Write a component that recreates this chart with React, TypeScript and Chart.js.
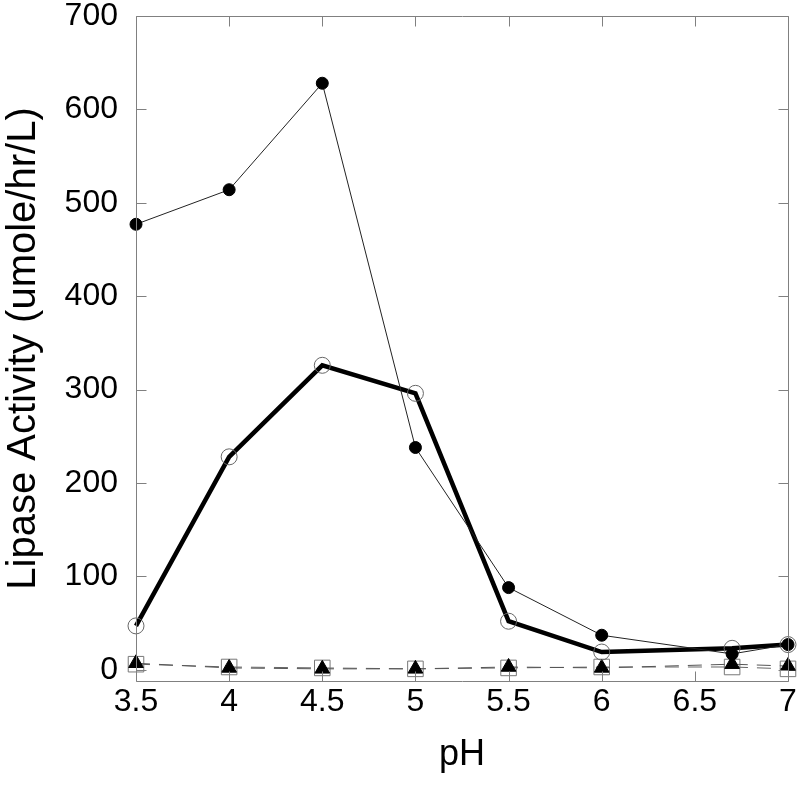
import React, { useEffect, useRef } from "react";
import { Chart, registerables } from "chart.js";

Chart.register(...registerables);

const phValues = [3.5, 4, 4.5, 5, 5.5, 6, 6.7, 7];
const filledCircle = [477, 514, 628, 238, 88, 37, 17, 27];
const openCircle = [47, 228, 326, 296, 52, 19, 23, 27];
const triangles = [7, 2, 1, 1, 3, 2, 6, 4];
const squares = [6, 3, 2, 1, 2, 3, 3, 1];
const yTicks = [0, 100, 200, 300, 400, 500, 600, 700];
const xTicks = [3.5, 4, 4.5, 5, 5.5, 6, 6.5, 7];

const pts = (ys: number[]) => phValues.map((x, i) => ({ x, y: ys[i] }));

const FONT = "'Liberation Sans', Arial, sans-serif";

const framePlugin = {
  id: "frame",
  afterDraw(chart: any) {
    const { ctx, chartArea: a, scales } = chart;
    const L = Math.round(a.left) + 0.5;
    const R = Math.round(a.right) + 0.5;
    const T = Math.round(a.top) + 0.5;
    const B = Math.round(a.bottom) + 0.5;
    ctx.save();
    ctx.strokeStyle = "#808080";
    ctx.lineWidth = 1;
    ctx.beginPath();
    ctx.rect(L, T, R - L, B - T);
    const len = 10;
    scales.x.ticks.forEach((t: any) => {
      const px = Math.round(scales.x.getPixelForValue(t.value)) + 0.5;
      ctx.moveTo(px, B);
      ctx.lineTo(px, B - len);
      ctx.moveTo(px, T);
      ctx.lineTo(px, T + len);
    });
    scales.y.ticks.forEach((t: any) => {
      const py = Math.round(scales.y.getPixelForValue(t.value)) + 0.5;
      ctx.moveTo(L, py);
      ctx.lineTo(L + len, py);
      ctx.moveTo(R, py);
      ctx.lineTo(R - len, py);
    });
    ctx.stroke();
    ctx.restore();
  },
};

export default function App() {
  const ref = useRef<HTMLCanvasElement>(null);
  useEffect(() => {
    document.body.style.margin = "0";
    const chart = new Chart(ref.current!, {
      type: "line",
      data: {
        datasets: [
          {
            data: pts(filledCircle),
            borderColor: "#222",
            borderWidth: 1,
            pointStyle: "circle",
            pointRadius: 6,
            pointBackgroundColor: "#000",
            pointBorderColor: "#000",
            pointBorderWidth: 1,
            clip: false,
          },
          {
            data: pts(openCircle),
            borderColor: "#000",
            borderWidth: 4.5,
            pointStyle: "circle",
            pointRadius: 8,
            pointBackgroundColor: "rgba(0,0,0,0)",
            pointBorderColor: "#666",
            pointBorderWidth: 1,
            clip: false,
          },
          {
            data: pts(triangles),
            borderColor: "#555",
            borderWidth: 1,
            borderDash: [14, 9],
            pointStyle: "triangle",
            pointRadius: 8.5,
            pointBackgroundColor: "#000",
            pointBorderColor: "#000",
            pointBorderWidth: 1,
            clip: false,
          },
          {
            data: pts(squares),
            borderColor: "#666",
            borderWidth: 1,
            borderDash: [14, 9],
            pointStyle: "rect",
            pointRadius: 11,
            pointBackgroundColor: "rgba(0,0,0,0)",
            pointBorderColor: "#777",
            pointBorderWidth: 1,
            clip: false,
          },
        ],
      },
      options: {
        animation: false,
        responsive: false,
        layout: { padding: { top: 16, right: 8, left: 0, bottom: 0 } },
        plugins: { legend: { display: false }, tooltip: { enabled: false } },
        elements: { line: { tension: 0 } },
        scales: {
          x: {
            type: "linear",
            min: 3.5,
            max: 7,
            grid: { display: false, drawTicks: false },
            border: { display: false },
            afterBuildTicks: (s: any) => {
              s.ticks = xTicks.map((v) => ({ value: v }));
            },
            afterFit: (s: any) => {
              s.height = 107;
              s.paddingLeft = 0;
              s.paddingRight = 0;
            },
            ticks: {
              color: "#000",
              padding: 2,
              maxRotation: 0,
              autoSkip: false,
              font: { family: FONT, size: 32 },
              callback: (v: any) => String(v),
            },
            title: {
              display: true,
              text: "pH",
              color: "#000",
              font: { family: FONT, size: 36 },
              padding: { top: 0, bottom: 11 },
            },
          },
          y: {
            type: "linear",
            min: -12,
            max: 700,
            grid: { display: false, drawTicks: false },
            border: { display: false },
            afterBuildTicks: (s: any) => {
              s.ticks = yTicks.map((v) => ({ value: v }));
            },
            afterFit: (s: any) => {
              s.width = 136;
              s.paddingTop = 0;
              s.paddingBottom = 0;
            },
            ticks: {
              color: "#000",
              padding: 18,
              autoSkip: false,
              font: { family: FONT, size: 32 },
              callback: (v: any) => String(v),
            },
            title: {
              display: true,
              text: "Lipase Activity (umole/hr/L)",
              color: "#000",
              font: { family: FONT, size: 40 },
              padding: { top: 0, bottom: 0 },
            },
          },
        },
      },
      plugins: [framePlugin],
    });
    return () => chart.destroy();
  }, []);
  return (
    <div style={{ width: 800, height: 788 }}>
      <canvas ref={ref} width={800} height={788} style={{ display: "block" }} />
    </div>
  );
}
